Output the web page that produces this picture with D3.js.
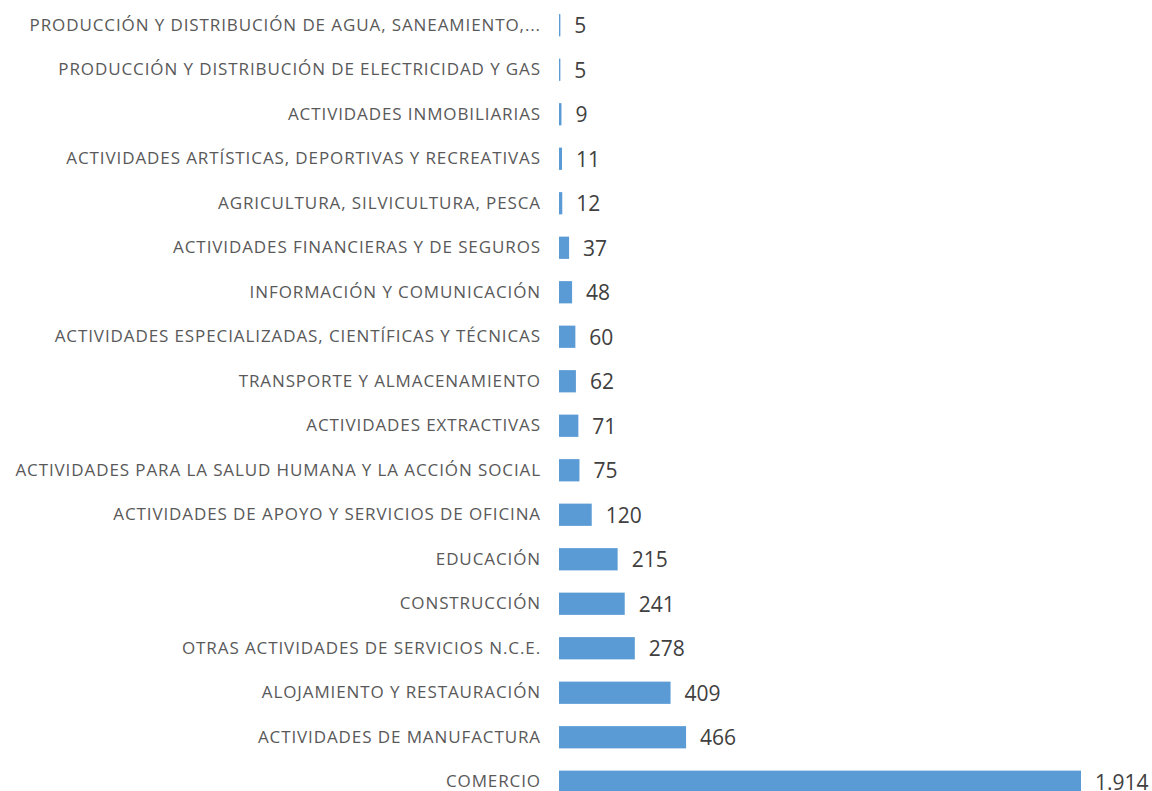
<!DOCTYPE html>
<html>
<head>
<meta charset="utf-8">
<script src="https://cdn.jsdelivr.net/npm/d3@7"></script>
<style>
  body { margin: 0; background: #fff; }
  svg { display: block; }
  text { font-family: "Open Sans", Lato, sans-serif; }
</style>
</head>
<body>
<div id="chart"></div>
<script>
var categories = [
	"PRODUCCIÓN Y DISTRIBUCIÓN DE AGUA, SANEAMIENTO,...",
	"PRODUCCIÓN Y DISTRIBUCIÓN DE ELECTRICIDAD Y GAS",
	"ACTIVIDADES INMOBILIARIAS",
	"ACTIVIDADES ARTÍSTICAS, DEPORTIVAS Y RECREATIVAS",
	"AGRICULTURA, SILVICULTURA, PESCA",
	"ACTIVIDADES FINANCIERAS Y DE SEGUROS",
	"INFORMACIÓN Y COMUNICACIÓN",
	"ACTIVIDADES ESPECIALIZADAS, CIENTÍFICAS Y TÉCNICAS",
	"TRANSPORTE Y ALMACENAMIENTO",
	"ACTIVIDADES EXTRACTIVAS",
	"ACTIVIDADES PARA LA SALUD HUMANA Y LA ACCIÓN SOCIAL",
	"ACTIVIDADES DE APOYO Y SERVICIOS DE OFICINA",
	"EDUCACIÓN",
	"CONSTRUCCIÓN",
	"OTRAS ACTIVIDADES DE SERVICIOS N.C.E.",
	"ALOJAMIENTO Y RESTAURACIÓN",
	"ACTIVIDADES DE MANUFACTURA",
	"COMERCIO"
];
var values = [5, 5, 9, 11, 12, 37, 48, 60, 62, 71, 75, 120, 215, 241, 278, 409, 466, 1914];

var width = 1152, height = 791;
var x0 = 559, xMaxPx = 1081;

var svg = d3.select("#chart").append("svg")
	.attr("width", width)
	.attr("height", height);

var x = d3.scaleLinear()
	.domain([0, d3.max(values)])
	.range([x0, xMaxPx]);

var y = d3.scaleBand()
	.domain(categories)
	.range([3, 3 + categories.length * 44.5])
	.paddingInner(0.5)
	.paddingOuter(0.25);

var fmt = d3.formatLocale({ decimal: ",", thousands: ".", grouping: [3], currency: ["", "€"] }).format(",d");

var data = categories.map(function (c, i) {
	return { category: c, value: values[i] };
});

svg.append("g")
	.selectAll("rect")
	.data(data)
	.enter().append("rect")
	.attr("x", x(0))
	.attr("y", function (d) { return y(d.category); })
	.attr("width", function (d) { return x(d.value) - x(0); })
	.attr("height", y.bandwidth())
	.attr("fill", "#5b9bd5");

// category labels
svg.append("g")
	.selectAll("text")
	.data(data)
	.enter().append("text")
	.attr("x", 541)
	.attr("y", function (d) { return y(d.category) + y.bandwidth() / 2; })
	.attr("dy", "0.32em")
	.attr("text-anchor", "end")
	.attr("font-size", 17)
	.attr("letter-spacing", 0.9)
	.attr("fill", "#595959")
	.text(function (d) { return d.category; });

// value labels
svg.append("g")
	.selectAll("text")
	.data(data)
	.enter().append("text")
	.attr("x", function (d) { return x(d.value) + 14; })
	.attr("y", function (d) { return y(d.category) + y.bandwidth() / 2; })
	.attr("dy", "0.38em")
	.attr("font-size", 21)
	.attr("fill", "#404040")
	.text(function (d) { return fmt(d.value); });
</script>
</body>
</html>
